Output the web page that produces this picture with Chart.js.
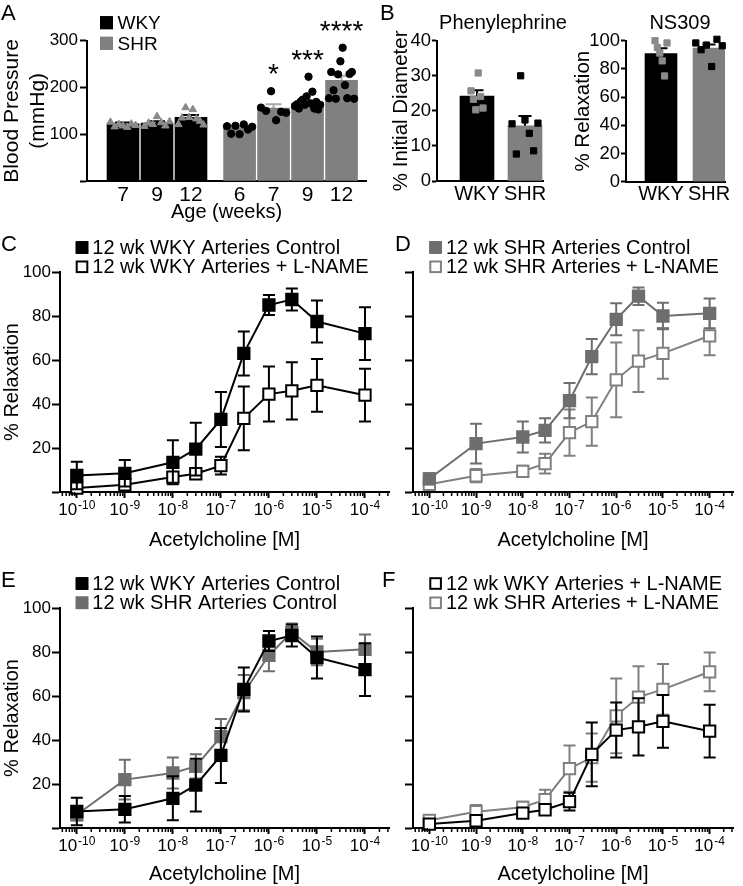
<!DOCTYPE html>
<html>
<head>
<meta charset="utf-8">
<script src="https://cdn.jsdelivr.net/npm/chart.js@4.4.1/dist/chart.umd.min.js"></script>
<style>
  html, body { margin: 0; padding: 0; background: #fff; overflow: hidden; }
  #wrap { position: relative; width: 743px; height: 886px; }
  canvas { position: absolute; }
</style>
</head>
<body>
<div id="wrap">
  <canvas id="panelA" width="372" height="224" style="left:0;top:0"></canvas>
  <canvas id="panelB1" width="195" height="206" style="left:375px;top:0"></canvas>
  <canvas id="panelB2" width="178" height="206" style="left:565px;top:0"></canvas>
  <canvas id="panelC" width="400" height="330" style="left:0;top:222px"></canvas>
  <canvas id="panelD" width="371" height="330" style="left:372px;top:222px"></canvas>
  <canvas id="panelE" width="400" height="328" style="left:0;top:558px"></canvas>
  <canvas id="panelF" width="371" height="328" style="left:372px;top:558px"></canvas>
</div>
<script>
// A: blood pressure by age
const wkyAges = ["7", "9", "12"];
const shrAges = ["6", "7", "9", "12"];
const wkyBP = [122, 124, 136];
const shrBP = [114, 156, 167, 215];
const wkyBPsem = [3, 4, 5];
const shrBPsem = [3, 8, 5, 10];
const wkyBPpoints = [
  [126, 116, 121, 118, 115, 122, 119],
  [117, 124, 121, 138, 125, 118, 127],
  [121, 135, 157, 136, 153, 133, 128, 120]
];
const shrBPpoints = [
  [117, 101, 118, 100, 121, 110, 116],
  [157, 150, 192, 130, 148, 146],
  [160, 164, 155, 170, 174, 163, 181, 223, 166, 191, 155, 169, 153, 163],
  [177, 233, 194, 176, 228, 256, 285, 205, 177, 229, 233, 176]
];
const shrStars = ["", "*", "***", "****"];

// B: phenylephrine constriction and NS309 relaxation
const groups = ["WKY", "SHR"];
const pheMean = [24.2, 15.7];
const pheSem = [1.7, 2.8];
const phePoints = [[25.7, 23.3, 20.3, 30.8, 24.1, 20.8], [16.3, 7.7, 30, 17.4, 13.6, 8.6, 16.5]];
const nsMean = [90.9, 94.7];
const nsSem = [3.8, 2.6];
const nsPoints = [[100, 95.2, 91.2, 85.7, 75, 98.4], [98.4, 93.6, 96.9, 81.7, 101, 96.4]];

// C-F: acetylcholine concentration response
const achDoses = [1e-10, 1e-9, 1e-8, 3e-8, 1e-7, 3e-7, 1e-6, 3e-6, 1e-5, 1e-4];
const wkyCtrl = [7.5, 8.5, 13.5, 19.5, 33, 63, 85, 87.5, 77.5, 72];
const wkyCtrlErr = [6.3, 6, 10, 12, 12.5, 10, 4.5, 5, 9.5, 12];
const wkyLname = [1.8, 3.3, 6.8, 8.3, 12, 33.5, 44.5, 46, 48.5, 44];
const wkyLnameErr = [1, 1.5, 1.5, 1.5, 4, 14.5, 12.5, 13, 12, 12];
const shrCtrl = [6, 22, 25, 28, 41.5, 61.5, 78.5, 89, 80, 81.2];
const shrCtrlErr = [2.5, 9, 7, 5.5, 8, 8, 7.3, 4, 6, 6.8];
const shrLname = [3.5, 7.4, 9.4, 12.9, 27, 32, 51, 59.5, 63, 71];
const shrLnameErr = [1.5, 3, 2.5, 4.5, 10.5, 11, 17, 14, 11.5, 8.8];

const FONT = "'Liberation Sans', Arial, Helvetica, sans-serif";
const GREY = "#808080";
const GREY_DARK = "#6e6e6e";
Chart.defaults.font.family = FONT;
Chart.defaults.color = "#000";
Chart.defaults.animation = false;

const font = (size) => ({ family: FONT, size: size });

function spread(values, center, width) {
  const n = values.length;
  return values.map((v, i) => ({ x: center + (n > 1 ? (i / (n - 1) - 0.5) * width : 0), y: v }));
}

// error bars drawn under each dataset
const errorBars = {
  id: "errorBars",
  beforeDatasetDraw(chart, args) {
    const ds = chart.data.datasets[args.index];
    if (!ds.errors) return;
    const ctx = chart.ctx;
    const yScale = chart.scales.y;
    ctx.save();
    ctx.strokeStyle = ds.errorColor || ds.borderColor;
    ctx.lineWidth = 2;
    args.meta.data.forEach((el, i) => {
      const err = ds.errors[i];
      if (!err) return;
      const raw = ds.data[i];
      const v = typeof raw === "object" ? raw.y : raw;
      const top = yScale.getPixelForValue(v + err);
      const bottom = ds.upOnly ? el.y : yScale.getPixelForValue(v - err);
      const w = ds.capHalf || 6;
      ctx.beginPath();
      ctx.moveTo(el.x, top);
      ctx.lineTo(el.x, bottom);
      ctx.moveTo(el.x - w, top);
      ctx.lineTo(el.x + w, top);
      if (!ds.upOnly) {
        ctx.moveTo(el.x - w, bottom);
        ctx.lineTo(el.x + w, bottom);
      }
      ctx.stroke();
    });
    ctx.restore();
  }
};

// small square legend like the original figure
const squareLegend = {
  id: "squareLegend",
  afterDraw(chart, args, o) {
    if (!o || !o.rows) return;
    const ctx = chart.ctx;
    o.rows.forEach((idx, r) => {
      const ds = chart.data.datasets[idx];
      const y = o.y + r * o.gap;
      const fill = ds.pointBackgroundColor || ds.backgroundColor;
      const stroke = ds.pointBorderColor || fill;
      ctx.save();
      ctx.fillStyle = fill;
      ctx.fillRect(o.x, y - o.box / 2, o.box, o.box);
      ctx.lineWidth = 2;
      ctx.strokeStyle = stroke;
      ctx.strokeRect(o.x + 1, y - o.box / 2 + 1, o.box - 2, o.box - 2);
      ctx.fillStyle = "#000";
      ctx.font = o.font;
      ctx.textBaseline = "middle";
      ctx.fillText(ds.label, o.x + o.box + o.textGap, y + 1);
      ctx.restore();
    });
  }
};

// panel letters and titles
const textLayer = {
  id: "textLayer",
  afterDraw(chart, args, o) {
    if (!o || !o.items) return;
    const ctx = chart.ctx;
    o.items.forEach(it => {
      ctx.save();
      ctx.font = it.size + "px " + FONT;
      ctx.fillStyle = "#000";
      ctx.textAlign = it.align || "left";
      ctx.textBaseline = "alphabetic";
      ctx.fillText(it.text, it.x, it.y);
      ctx.restore();
    });
  }
};

// significance stars above SHR groups
const starPlugin = {
  id: "stars",
  afterDatasetsDraw(chart, args, o) {
    if (!o || !o.labels) return;
    const ctx = chart.ctx;
    ctx.save();
    ctx.font = o.size + "px " + FONT;
    ctx.fillStyle = "#000";
    ctx.textAlign = "center";
    ctx.textBaseline = "alphabetic";
    o.labels.forEach((s, i) => {
      if (!s) return;
      const top = Math.max.apply(null, o.points[i]);
      const px = chart.scales.x.getPixelForValue(o.positions[i]);
      const py = chart.scales.y.getPixelForValue(top) - o.lift;
      ctx.fillText(s, px, py + o.size * 0.57);
    });
    ctx.restore();
  }
};

// 10^n labels with a raised exponent, plus short minor ticks, under the log axis
const isDecade = v => Math.abs(Math.log10(v) - Math.round(Math.log10(v))) < 1e-6;
const powerTicks = {
  id: "powerTicks",
  afterDraw(chart) {
    const x = chart.scales.x;
    const ctx = chart.ctx;
    ctx.save();
    ctx.fillStyle = "#000";
    ctx.strokeStyle = "#000";
    ctx.lineWidth = 1.5;
    ctx.textBaseline = "alphabetic";
    ctx.textAlign = "left";
    x.ticks.forEach(t => {
      const px0 = x.getPixelForValue(t.value);
      if (!isDecade(t.value)) {
        ctx.beginPath();
        ctx.moveTo(px0, x.top);
        ctx.lineTo(px0, x.top + 4);
        ctx.stroke();
        return;
      }
      const exp = String(Math.round(Math.log10(t.value)));
      ctx.font = "17px " + FONT;
      const w1 = ctx.measureText("10").width;
      ctx.font = "12px " + FONT;
      const w2 = ctx.measureText(exp).width;
      const px = px0 - (w1 + w2 + 1) / 2;
      ctx.font = "17px " + FONT;
      ctx.fillText("10", px, x.top + 23);
      ctx.font = "12px " + FONT;
      ctx.fillText(exp, px + w1 + 1, x.top + 17);
    });
    ctx.restore();
  }
};

// ---------- Panel A ----------
const groupGap = 0.43;
const posWky = wkyAges.map((a, i) => i);
const posShr = shrAges.map((a, i) => wkyAges.length + groupGap + i);
const agePositions = posWky.concat(posShr);
const ageLabels = wkyAges.concat(shrAges);

new Chart(document.getElementById("panelA"), {
  type: "bar",
  data: {
    datasets: [
      {
        label: "WKY",
        data: posWky.map((p, i) => ({ x: p, y: wkyBP[i] })),
        backgroundColor: "#000",
        errors: wkyBPsem, upOnly: true, errorColor: "#000", capHalf: 8,
        barThickness: 32, grouped: false, order: 1
      },
      {
        label: "SHR",
        data: posShr.map((p, i) => ({ x: p, y: shrBP[i] })),
        backgroundColor: GREY,
        errors: shrBPsem, upOnly: true, errorColor: "#a8a8a8", capHalf: 8,
        barThickness: 32, grouped: false, order: 1
      },
      {
        type: "scatter", label: "WKY points",
        data: posWky.flatMap((p, i) => spread(wkyBPpoints[i], p, 0.74)),
        pointStyle: "triangle", pointRadius: 4.3,
        backgroundColor: "#8a8a8a", borderColor: "#8a8a8a", order: 0, clip: false
      },
      {
        type: "scatter", label: "SHR points",
        data: posShr.flatMap((p, i) => spread(shrBPpoints[i], p, 0.74)),
        pointStyle: "circle", pointRadius: 3.7,
        backgroundColor: "#000", borderColor: "#000", order: 0, clip: false
      }
    ]
  },
  options: {
    responsive: false,
    layout: { padding: { left: 0, right: 6, top: 40.7, bottom: 0 } },
    scales: {
      x: {
        type: "linear", min: -1.06, max: 7.15, offset: false,
        afterFit: s => { s.height = 43; },
        afterBuildTicks: s => { s.ticks = agePositions.map(v => ({ value: v })); },
        grid: { display: false, drawTicks: false, offset: false },
        border: { color: "#000", width: 2 },
        ticks: { autoSkip: false, maxRotation: 0, padding: 2, font: font(21), callback: (v, i) => ageLabels[i] },
        title: { display: true, text: "Age (weeks)", font: font(20), padding: { top: 0, bottom: 0 } }
      },
      y: {
        min: 0, max: 300,
        afterFit: s => { s.width = 87; },
        grid: { drawOnChartArea: false, color: "#000", tickLength: 7, tickWidth: 2 },
        border: { color: "#000", width: 2 },
        ticks: { stepSize: 100, padding: 2, font: font(17), callback: v => (v === 0 ? "" : v) },
        title: { display: true, text: ["Blood Pressure", "(mmHg)"], font: { family: FONT, size: 21, lineHeight: 1.2 }, padding: { top: 0, bottom: 0 } }
      }
    },
    plugins: {
      legend: { display: false },
      tooltip: { enabled: false },
      squareLegend: { rows: [0, 1], x: 100, y: 22.7, gap: 20.6, box: 13, textGap: 4.5, font: "19px " + FONT },
      textLayer: { items: [{ text: "A", x: 1, y: 20, size: 22 }] },
      stars: { labels: shrStars, points: shrBPpoints, positions: posShr, lift: 24, size: 28 }
    }
  },
  plugins: [errorBars, squareLegend, textLayer, starPlugin]
});

// ---------- Panel B ----------
function barPanel(id, cfg) {
  return new Chart(document.getElementById(id), {
    type: "bar",
    data: {
      datasets: [
        {
          type: "scatter", label: "WKY points",
          data: spread(cfg.points[0], 0, cfg.spreadW[0]),
          pointStyle: "rect", pointRadius: 4.4,
          backgroundColor: "#8a8a8a", borderColor: "#8a8a8a", order: 0, clip: false
        },
        {
          type: "scatter", label: "SHR points",
          data: spread(cfg.points[1], 1, cfg.spreadW[1]),
          pointStyle: "rect", pointRadius: 4.4,
          backgroundColor: "#000", borderColor: "#000", order: 0, clip: false
        },
        {
          label: cfg.title,
          data: groups.map((g, i) => ({ x: i, y: cfg.mean[i] })),
          backgroundColor: ["#000", GREY],
          errors: cfg.sem, upOnly: true, errorColor: "#000", capHalf: 6.5,
          barThickness: cfg.barW, grouped: false, order: 1
        }
      ]
    },
    options: {
      responsive: false,
      layout: { padding: { left: 0, right: cfg.padRight, top: 40.7, bottom: 0 } },
      scales: {
        x: {
          type: "linear", min: cfg.xMin, max: cfg.xMax, offset: false,
          afterFit: s => { s.height = cfg.xHeight; },
          afterBuildTicks: s => { s.ticks = groups.map((g, i) => ({ value: i })); },
          grid: { display: false, drawTicks: false, offset: false },
          border: { color: "#000", width: 2 },
          ticks: { autoSkip: false, maxRotation: 0, padding: 1, font: font(20), callback: (v, i) => groups[i] }
        },
        y: {
          min: 0, max: cfg.yMax,
          afterFit: s => { s.width = cfg.yWidth; },
          grid: { drawOnChartArea: false, color: "#000", tickLength: 5, tickWidth: 2 },
          border: { color: "#000", width: 2 },
          ticks: { stepSize: cfg.step, padding: 1, font: font(18.5) },
          title: { display: true, text: cfg.yTitle, font: font(20.5), padding: { top: cfg.titlePad, bottom: 0 } }
        }
      },
      plugins: {
        legend: { display: false },
        tooltip: { enabled: false },
        textLayer: { items: cfg.texts }
      }
    },
    plugins: [errorBars, textLayer]
  });
}

barPanel("panelB1", {
  title: "Phenylephrine", mean: pheMean, sem: pheSem, points: phePoints,
  spreadW: [0.25, 0.54], barW: 34, xMin: -0.833, xMax: 1.375, xHeight: 25,
  padRight: 27, yMax: 40, step: 10, yWidth: 62, yTitle: "% Initial Diameter", titlePad: 14.4,
  texts: [{ text: "B", x: 5, y: 20, size: 22 }, { text: "Phenylephrine", x: 128, y: 28.5, size: 20, align: "center" }]
});

barPanel("panelB2", {
  title: "NS309", mean: nsMean, sem: nsSem, points: nsPoints,
  spreadW: [0.25, 0.55], barW: 32, xMin: -0.729, xMax: 1.333, xHeight: 24.3,
  padRight: 18, yMax: 100, step: 20, yWidth: 61, yTitle: "% Relaxation", titlePad: 5.7,
  texts: [{ text: "NS309", x: 115, y: 28.5, size: 20, align: "center" }]
});

// ---------- Panels C-F ----------
function logTicks(scale) {
  const list = [];
  for (let e = -11; e <= -4; e++) {
    for (let k = 1; k <= 9; k++) {
      const v = k * Math.pow(10, e);
      if (v >= scale.min && v <= scale.max) list.push({ value: v, major: k === 1 });
    }
  }
  scale.ticks = list;
}

function series(label, values, errors, color, open) {
  return {
    label: label,
    data: achDoses.map((d, i) => ({ x: d, y: values[i] })),
    errors: errors,
    borderColor: color,
    backgroundColor: color,
    borderWidth: 2,
    pointStyle: "rect",
    pointRadius: 8,
    pointBorderWidth: 2,
    pointBackgroundColor: open ? "#fff" : color,
    pointBorderColor: color,
    capHalf: 6,
    clip: false
  };
}

function doseResponse(id, sets, cfg) {
  return new Chart(document.getElementById(id), {
    type: "line",
    data: { datasets: sets },
    options: {
      responsive: false,
      layout: { padding: { left: 0, right: cfg.padRight, top: 50, bottom: 0 } },
      scales: {
        x: {
          type: "logarithmic", min: Math.pow(10, -10.35), max: Math.pow(10, -3.5),
          afterFit: s => { s.height = cfg.xHeight; },
          afterBuildTicks: logTicks,
          grid: {
            drawOnChartArea: false, tickLength: 6, tickWidth: 2,
            tickColor: c => (c.tick && isDecade(c.tick.value) ? "#000" : "rgba(0,0,0,0)")
          },
          border: { color: "#000", width: 2 },
          ticks: { display: false, autoSkip: false, maxRotation: 0, minRotation: 0 },
          title: { display: true, text: "Acetylcholine [M]", font: font(20), padding: { top: 0, bottom: 0 } }
        },
        y: {
          min: 0, max: 100,
          afterFit: s => { s.width = cfg.yWidth; },
          grid: { drawOnChartArea: false, color: "#000", tickLength: 8, tickWidth: 2 },
          border: { color: "#000", width: 2 },
          ticks: { stepSize: 20, display: cfg.showY, padding: 1, font: font(17), callback: v => (v === 0 ? "" : v) },
          title: { display: cfg.showY, text: "% Relaxation", font: font(20), padding: { top: 0, bottom: 0 } }
        }
      },
      plugins: {
        legend: { display: false },
        tooltip: { enabled: false },
        squareLegend: { rows: [0, 1], x: cfg.legendX, y: 25.5, gap: 19.3, box: 12.6, textGap: 4, font: "20px " + FONT },
        textLayer: { items: [{ text: cfg.letter, x: cfg.letterX, y: 28.5, size: 22 }] }
      }
    },
    plugins: [errorBars, squareLegend, textLayer, powerTicks]
  });
}

const left = { padRight: 11, yWidth: 60, showY: true, legendX: 75.7, letterX: 1 };
const right = { padRight: 1, yWidth: 41, showY: false, legendX: 57.3, letterX: 23 };

doseResponse("panelC", [
  series("12 wk WKY Arteries Control", wkyCtrl, wkyCtrlErr, "#000", false),
  series("12 wk WKY Arteries + L-NAME", wkyLname, wkyLnameErr, "#000", true)
], Object.assign({}, left, { xHeight: 60, letter: "C" }));

doseResponse("panelD", [
  series("12 wk SHR Arteries Control", shrCtrl, shrCtrlErr, GREY_DARK, false),
  series("12 wk SHR Arteries + L-NAME", shrLname, shrLnameErr, GREY, true)
], Object.assign({}, right, { xHeight: 60, letter: "D" }));

doseResponse("panelE", [
  series("12 wk WKY Arteries Control", wkyCtrl, wkyCtrlErr, "#000", false),
  series("12 wk SHR Arteries Control", shrCtrl, shrCtrlErr, GREY_DARK, false)
], Object.assign({}, left, { xHeight: 58, letter: "E" }));

doseResponse("panelF", [
  series("12 wk WKY Arteries + L-NAME", wkyLname, wkyLnameErr, "#000", true),
  series("12 wk SHR Arteries + L-NAME", shrLname, shrLnameErr, GREY, true)
], Object.assign({}, right, { xHeight: 58, letter: "F", letterX: 10 }));
</script>
</body>
</html>
